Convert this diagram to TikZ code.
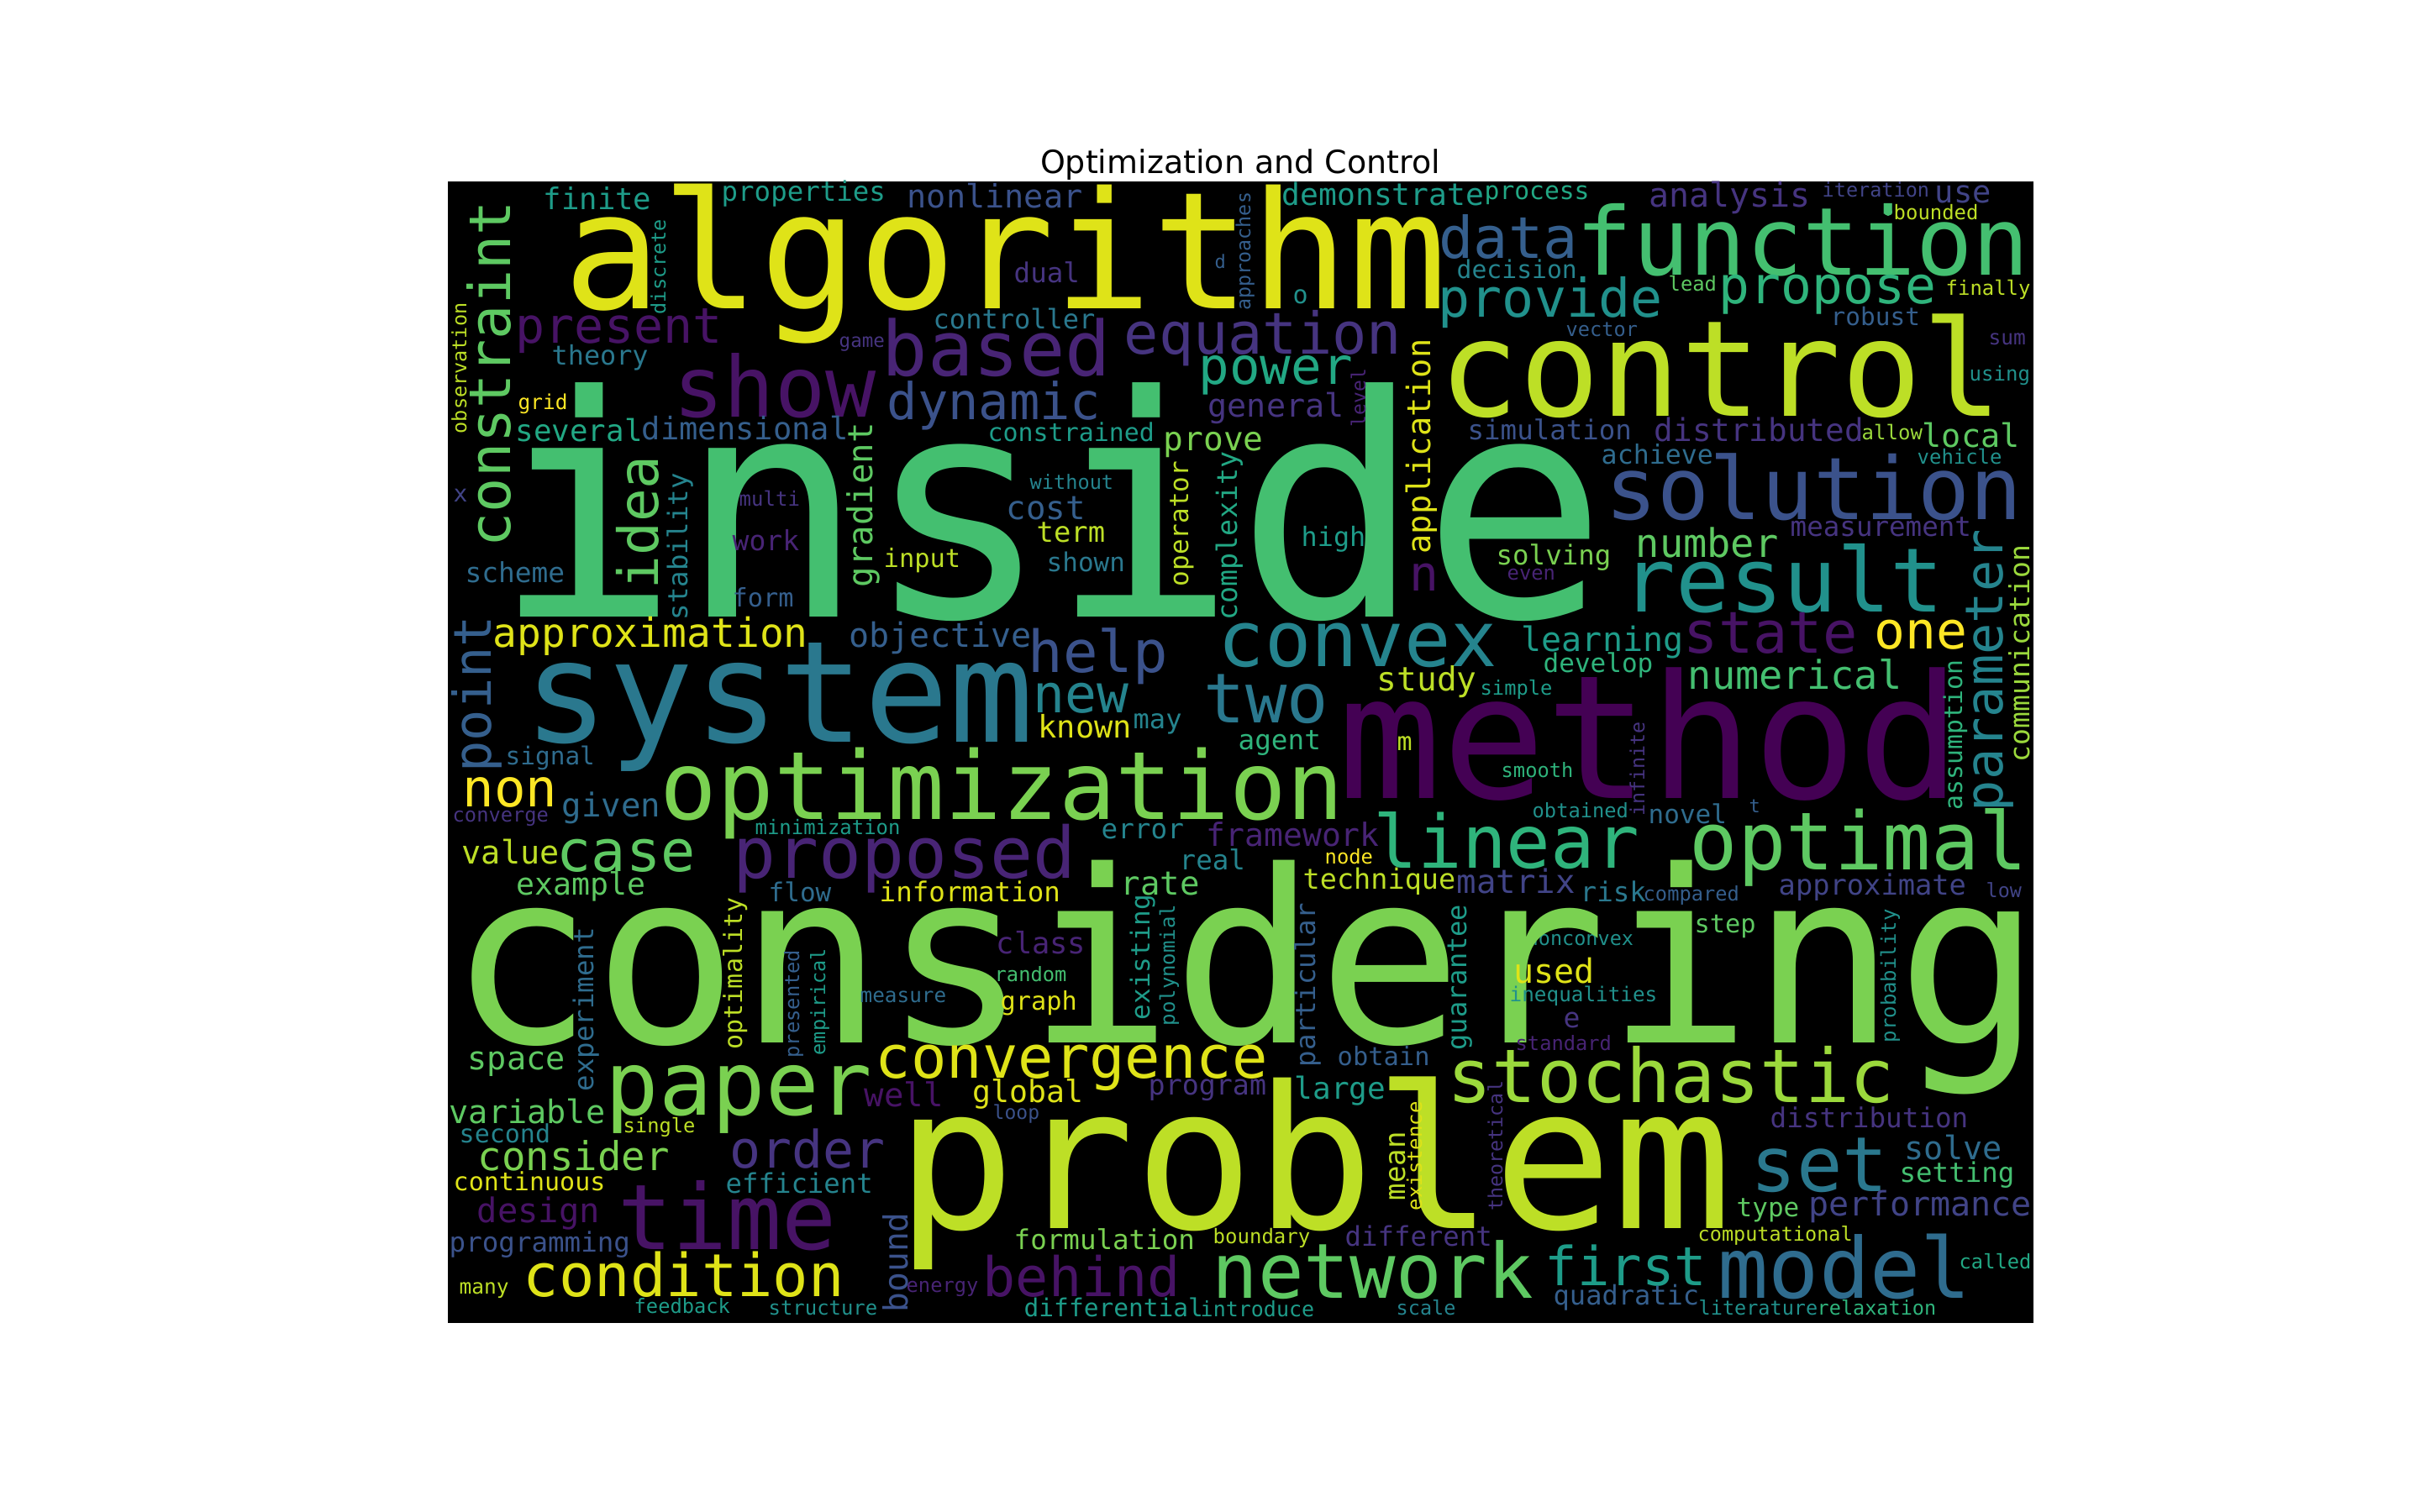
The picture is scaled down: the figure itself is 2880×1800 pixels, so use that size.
\documentclass[tikz,border=0pt]{standalone}
\usepackage{fontspec}
\usepackage{tikz}
\newfontfamily\cloudfont{DejaVu Sans Mono}
\newfontfamily\titlefont{DejaVu Sans}
% viridis, 21 steps
\definecolor{v0}{HTML}{440154}
\definecolor{v1}{HTML}{471365}
\definecolor{v2}{HTML}{482475}
\definecolor{v3}{HTML}{463480}
\definecolor{v4}{HTML}{414487}
\definecolor{v5}{HTML}{3B528B}
\definecolor{v6}{HTML}{355F8D}
\definecolor{v7}{HTML}{2F6C8E}
\definecolor{v8}{HTML}{2A788E}
\definecolor{v9}{HTML}{25848E}
\definecolor{v10}{HTML}{21918C}
\definecolor{v11}{HTML}{1E9C89}
\definecolor{v12}{HTML}{22A884}
\definecolor{v13}{HTML}{2FB47C}
\definecolor{v14}{HTML}{44BF70}
\definecolor{v15}{HTML}{5EC962}
\definecolor{v16}{HTML}{7AD151}
\definecolor{v17}{HTML}{9BD93C}
\definecolor{v18}{HTML}{BDDF26}
\definecolor{v19}{HTML}{DFE318}
\definecolor{v20}{HTML}{FDE725}

\begin{document}
\begin{tikzpicture}[x=0.01cm, y=-0.01cm,
    word/.style={anchor=base west, inner sep=0pt, text=#1}]
    \useasboundingbox (0,0) rectangle (2880,1800);
    \fill [white] (0,0) rectangle (2880,1800);
    \fill [black] (533,216) rectangle (2420,1575);
    \node [anchor=base, inner sep=0pt, font=\titlefont\fontsize{10.8}{13}\selectfont] (title) at (1476,207) {Optimization and Control};

    % words lying flat: x/baseline/em/colour/word
    \foreach \wx/\wy/\wsize/\wcol/\wtext [count=\i] in {
        646/250/35.6/v11/finite, 858/240/32.4/v11/properties, 1079/248/38.5/v5/nonlinear,
        1525/245/36.3/v11/demonstrate, 1766/238/29.6/v12/process, 1962/247/39.9/v3/analysis,
        2168/235/23.5/v4/iteration, 2302/242/37/v4/use, 2253/262/23.9/v18/bounded,
        670/367/194/v19/algorithm, 1875/328/112/v14/function, 1712/308/68.5/v6/data,
        1206/337/32.5/v3/dual, 1445/320/22/v6/d, 1538/362/30/v10/o,
        1733/332/29.7/v9/decision, 1985/347/23.8/v15/lead, 2045/362/61.3/v13/propose,
        2315/352/23.9/v18/finally, 613/409/58.3/v1/present, 1110/392/32/v8/controller,
        1337/422/68.6/v3/equation, 1711/378/63.3/v10/provide, 2178/388/29.4/v6/robust,
        1863/400/23.6/v6/vector, 2366/410/24.5/v3/sum, 656/435/31.8/v8/theory,
        801/497/100/v1/show, 998/413/22.5/v3/game, 1049/448/90.4/v2/based,
        1712/495/159/v18/control, 2343/453/24/v10/using, 616/488/24.5/v20/grid,
        1426/458/60.8/v12/power, 1437/497/38.4/v3/general, 1746/523/32.4/v5/simulation,
        1968/525/37.6/v3/distributed, 2215/523/24/v17/allow, 2287/533/38.5/v15/local,
        613/525/35.8/v12/several, 763/523/37.1/v6/dimensional, 1055/500/60.4/v5/dynamic,
        1175/525/29.9/v11/constrained, 1384/537/39.5/v16/prove, 1905/553/31.6/v7/achieve,
        2281/553/23.9/v10/vehicle, 587/735/367/v14/inside, 1910/618/103/v5/solution,
        539/597/28/v4/x, 879/603/24/v3/multi, 1225/583/23.6/v9/without,
        1197/618/39/v6/cost, 2130/638/32.5/v3/measurement, 871/655/33/v2/work,
        1233/645/33.8/v18/term, 1548/650/31.8/v11/high, 1930/728/106/v10/result,
        1946/663/47/v15/number, 553/693/32.8/v7/scheme, 1051/675/30.4/v18/input,
        1245/680/31/v8/shown, 1780/672/32.4/v16/solving, 1793/690/23.8/v2/even,
        871/722/30.3/v6/form, 586/770/47.9/v19/approximation, 1010/770/40/v6/objective,
        1223/800/69/v5/help, 1449/793/92/v9/convex, 1677/703/58/v1/n,
        1810/775/40/v11/learning, 1836/800/31/v13/develop, 2003/777/68.7/v1/state,
        2230/772/61.4/v20/one, 623/883/168/v8/system, 1229/848/63/v9/new,
        1432/860/82/v8/two, 1638/822/39.5/v18/study, 1761/827/23.7/v11/simple,
        2008/820/47/v14/numerical, 1235/878/37/v19/known, 1348/867/32/v9/may,
        1592/950/205/v0/method, 1473/892/32.6/v13/agent, 1662/893/30/v18/m,
        601/910/29.4/v7/signal, 550/960/62.4/v20/non, 668/972/39/v7/given,
        538/978/23.7/v3/converge, 785/975/112.5/v16/optimization, 1786/925/23.7/v13/smooth,
        1823/973/23.7/v10/obtained, 1961/980/31/v7/novel, 2081/967/22/v6/t,
        898/993/23.9/v11/minimization, 1310/998/32.6/v9/error, 1435/1007/38/v2/framework,
        1634/1033/87.5/v13/linear, 2010/1035/95.4/v15/optimal, 549/1028/38.5/v18/value,
        662/1037/68.5/v15/case, 872/1045/84.7/v2/proposed, 1403/1035/32.5/v9/real,
        1576/1028/23.8/v20/node, 614/1065/36.5/v15/example, 1333/1065/39/v15/rate,
        1046/1073/32.5/v19/information, 914/1073/31/v7/flow, 1550/1058/33.5/v18/technique,
        1733/1063/39/v4/matrix, 1880/1073/32.5/v8/risk, 1955/1072/23.7/v6/compared,
        2116/1065/33.7/v4/approximate, 2363/1068/23.4/v4/low, 1185/1135/35.4/v2/class,
        2016/1110/30.3/v15/step, 1816/1125/23.5/v10/nonconvex, 534/1241/286/v16/considering,
        1183/1168/23.7/v14/random, 1023/1193/24.3/v7/measure, 1190/1202/30.3/v19/graph,
        1801/1170/40/v19/used, 1796/1192/24.3/v10/inequalities, 1860/1223/33/v3/e,
        1803/1250/23.7/v2/standard, 1591/1268/30.4/v6/obtain, 556/1273/38.5/v15/space,
        1041/1283/70.5/v19/convergence, 720/1327/105.5/v16/paper, 534/1337/38.5/v15/variable,
        741/1348/23.7/v18/single, 546/1360/30/v9/second, 1028/1317/39/v1/well,
        1157/1312/36.5/v19/global, 1181/1332/23/v5/loop, 1366/1303/33.3/v3/program,
        1722/1312/88.3/v17/stochastic, 1540/1308/36/v11/large, 568/1393/47.3/v16/consider,
        868/1390/61.5/v3/order, 2106/1342/32.6/v3/distribution, 539/1417/30/v19/continuous,
        863/1420/32.3/v9/efficient, 1066/1462/236/v18/problem, 2083/1418/90.6/v8/set,
        2266/1380/38.5/v7/solve, 2260/1407/32.4/v14/setting, 567/1455/40.4/v1/design,
        735/1487/108/v1/time, 534/1490/32.5/v5/programming, 1206/1487/32.5/v16/formulation,
        1443/1480/24/v18/boundary, 1600/1483/32.3/v3/different, 2066/1448/31/v15/type,
        2152/1447/40/v4/performance, 2020/1477/23.5/v18/computational, 622/1543/70.5/v19/condition,
        546/1540/24.5/v18/many, 1078/1538/23.7/v2/energy, 1169/1543/65/v1/behind,
        1442/1545/90.7/v15/network, 1838/1530/64/v11/first, 2044/1545/100/v7/model,
        2331/1510/23.7/v12/called, 754/1563/23.7/v11/feedback, 914/1565/23.9/v10/structure,
        1218/1567/29.5/v11/differential, 1428/1567/25/v11/introduce, 1661/1565/23.5/v9/scale,
        1848/1553/32/v6/quadratic, 2021/1565/23.5/v10/literature, 2162/1565/23.5/v13/relaxation}{
        \pgfmathsetmacro\fsz{\wsize*0.2845}
        \node [word=\wcol, font=\cloudfont\fontsize{\fsz pt}{\fsz pt}\selectfont] (h\i) at (\wx,\wy) {\wtext};
    }

    % words standing up: baseline x/bottom/em/colour/word
    \foreach \wx/\wy/\wsize/\wcol/\wtext [count=\i] in {
        607/652/68.4/v15/constraint, 555/517/23.5/v18/observation, 792/375/23.5/v11/discrete,
        783/702/66/v15/idea, 818/739/32.3/v9/stability, 1038/700/40.7/v15/gradient,
        1414/699/31/v18/operator, 1472/739/33.3/v12/complexity, 1488/370/23.3/v6/approaches,
        1625/509/23/v2/level, 1702/660/38.6/v19/application, 2383/967/62/v9/parameter,
        2415/908/33/v17/communication, 584/920/61.9/v6/point, 883/1250/30/v18/optimality,
        706/1300/32.4/v7/experiment, 1368/1215/31/v11/existing, 1398/1222/24/v10/polynomial,
        1957/972/23.3/v3/infinite, 2335/965/29.7/v13/assumption, 2256/1242/24/v10/probability,
        1565/1271/32.4/v6/particular, 1745/1251/32/v11/guarantee, 951/1260/23.7/v6/presented,
        982/1257/23.5/v11/empirical, 1080/1563/39.5/v5/bound, 1672/1430/34/v18/mean,
        1692/1442/24/v19/existence, 1788/1442/23.3/v3/theoretical}{
        \pgfmathsetmacro\fsz{\wsize*0.2845}
        \node [word=\wcol, rotate=90, font=\cloudfont\fontsize{\fsz pt}{\fsz pt}\selectfont] (r\i) at (\wx,\wy) {\wtext};
    }

    \fill [v14] (2247,252) circle (5);
\end{tikzpicture}
\end{document}
